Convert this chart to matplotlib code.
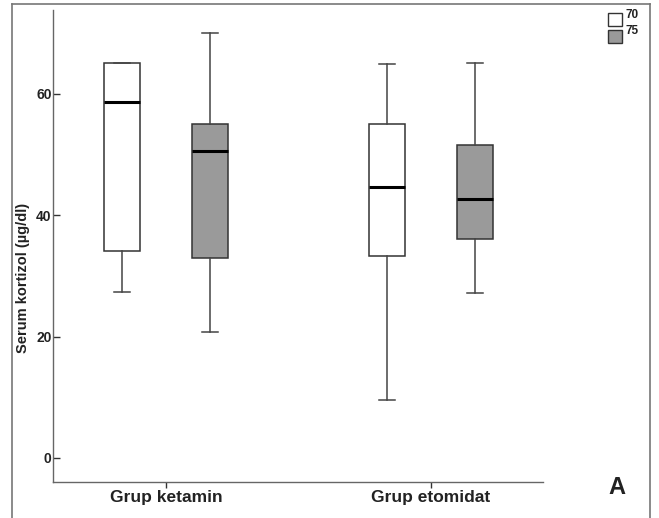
import matplotlib
matplotlib.use("Agg")
import matplotlib.pyplot as plt
from matplotlib.lines import Line2D
from matplotlib.patches import Rectangle

plt.rcParams["font.family"] = ["Liberation Sans", "DejaVu Sans"]
plt.rcParams["font.weight"] = "bold"

# Boxplot summary values (µg/dl)
groups = ["Grup ketamin", "Grup etomidat"]
series = ["70", "75"]
whislo = [[27.4, 20.8], [9.6, 27.2]]
q1 = [[34.1, 33.0], [33.3, 36.1]]
med = [[58.6, 50.5], [44.7, 42.7]]
q3 = [[65.1, 55.0], [55.0, 51.5]]
whishi = [[65.1, 70.0], [64.9, 65.0]]
fills = ["white", "#9a9a9a"]
yticks = [0, 20, 40, 60]

W, H = 659, 518
fig = plt.figure(figsize=(W / 100, H / 100), dpi=100)
ax = fig.add_axes([53 / W, (H - 482) / H, (543 - 53) / W, (482 - 10) / H])

offset = 0.166
box_w = 0.136
for gi in range(len(groups)):
    for si in range(len(series)):
        st = dict(med=med[gi][si], q1=q1[gi][si], q3=q3[gi][si],
                  whislo=whislo[gi][si], whishi=whishi[gi][si], fliers=[])
        pos = gi + 1 + (offset if si else -offset)
        ax.bxp([st], positions=[pos], widths=box_w, capwidths=0.064,
               showfliers=False, patch_artist=True,
               boxprops=dict(facecolor=fills[si], edgecolor="#333333", linewidth=1.1),
               medianprops=dict(color="black", linewidth=2.2),
               whiskerprops=dict(color="#444444", linewidth=1.1),
               capprops=dict(color="#444444", linewidth=1.1))

ax.set_xlim(0.5736, 2.4226)
ax.set_ylim(-3.96, 73.8)
ax.set_xticks([1, 2])
ax.set_xticklabels(groups, fontsize=12.5, fontweight="bold", color="#222222")
ax.set_yticks(yticks)
ax.set_yticklabels([str(v) for v in yticks], fontsize=10, fontweight="bold", color="#222222")
ax.tick_params(axis="y", direction="in", length=5, width=1, color="#333333", pad=1)
ax.tick_params(axis="x", direction="out", length=4.3, width=1, color="#333333", pad=1.5)
ax.spines[["top", "right"]].set_visible(False)
for s in ["left", "bottom"]:
    ax.spines[s].set_color("#666666")
    ax.spines[s].set_linewidth(1.0)

ax.set_ylabel("Serum kortizol (\u00b5g/dl)", fontsize=10.5, fontweight="bold", color="#222222")
ax.yaxis.set_label_coords(-0.046, 0.433)

# outer frame
fc = "#777777"
fig.add_artist(Line2D([12 / W, 12 / W], [0, 1 - 4 / H], color=fc, lw=1.2, transform=fig.transFigure))
fig.add_artist(Line2D([12 / W, 650 / W], [1 - 4 / H, 1 - 4 / H], color=fc, lw=1.2, transform=fig.transFigure))
fig.add_artist(Line2D([650 / W, 650 / W], [0, 1 - 4 / H], color=fc, lw=1.2, transform=fig.transFigure))

# legend
for i, lab in enumerate(series):
    y0 = 12.5 + i * 17
    fig.add_artist(Rectangle((608 / W, 1 - (y0 + 13) / H), 13.5 / W, 13 / H,
                             facecolor=fills[i], edgecolor="#333333", lw=1.0,
                             transform=fig.transFigure))
    fig.text(625 / W, 1 - (y0 - 4) / H, lab, fontsize=8.5, fontweight="bold",
             ha="left", va="top", color="#222222")

fig.text(616.5 / W, 1 - 487.5 / H, "A", fontsize=17, fontweight="bold",
         ha="center", va="center", color="#222222")

fig.savefig("out.png", dpi=100)
